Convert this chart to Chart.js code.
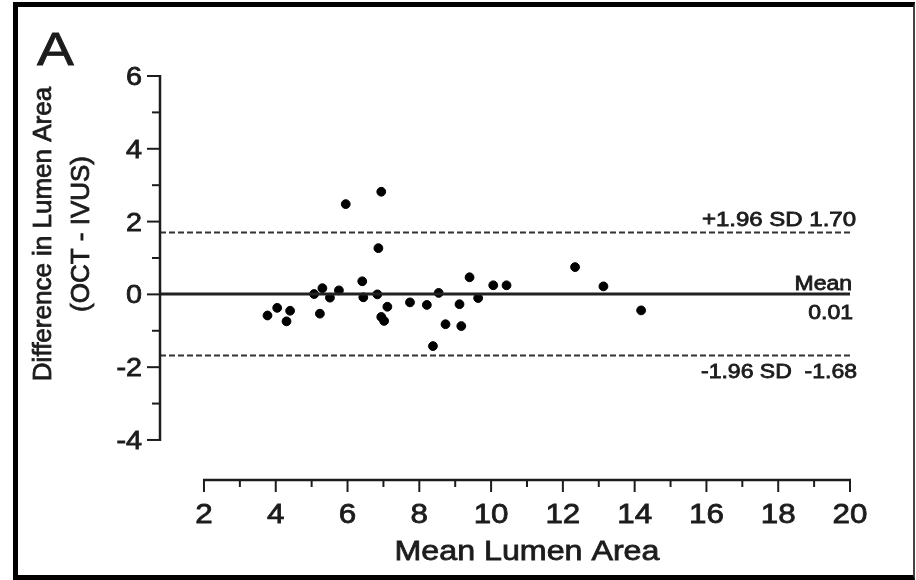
<!DOCTYPE html>
<html lang="en">
<head>
<meta charset="UTF-8">
<title>Bland-Altman OCT vs IVUS</title>
<script src="https://cdn.jsdelivr.net/npm/chart.js"></script>
<style>
    body { margin: 0; background: #fff; }
    .wrap { position: relative; width: 916px; height: 580px; }
    .frame {
        position: absolute; left: 13px; top: 2px; width: 902px; height: 578px;
        box-sizing: border-box;
        border-left: 5px solid #000; border-top: 5px solid #000;
        border-bottom: 5px solid #000; border-right: 2px solid #444;
        pointer-events: none;
    }
</style>
</head>
<body>
<div class="wrap">
    <canvas id="grafico"></canvas>
    <div class="frame"></div>
</div>
<script>
// values
const meanArea = [3.77, 4.04, 4.30, 4.40, 5.07, 5.30, 5.23, 5.51, 5.76, 5.95, 6.41, 6.44, 6.83, 6.86,
    6.94, 6.94, 7.02, 7.11, 7.74, 8.21, 8.38, 8.54, 8.73, 9.12, 9.17, 9.40, 9.64, 10.06, 10.43,
    12.34, 13.13, 14.18];
const diffArea = [-0.58, -0.37, -0.74, -0.45, 0.01, 0.17, -0.53, -0.09, 0.11, 2.48, 0.36, -0.08, 0.00, 1.27,
    2.82, -0.62, -0.73, -0.34, -0.22, -0.29, -1.42, 0.04, -0.82, -0.27, -0.87, 0.47, -0.10, 0.25, 0.25,
    0.75, 0.22, -0.44];

const meanDiff = 0.01;
const upperLoA = 1.70;
const lowerLoA = -1.68;

const xTicks = [2, 3, 4, 5, 6, 7, 8, 9, 10, 11, 12, 13, 14, 15, 16, 17, 18, 19, 20];
const yTicks = [-4, -3, -2, -1, 0, 1, 2, 3, 4, 5, 6];

// x axis is detached, plot area starts at the y axis
const X_MIN = 0.775, X_MAX = 20;
const Y_MIN = -5.1, Y_MAX = 6;

const FONT = '"Liberation Sans", Arial, sans-serif';
const INK = '#1c1c1c';

function hline(value, dash, width, color) {
    return {
        type: 'line',
        data: [{ x: X_MIN, y: value }, { x: X_MAX, y: value }],
        borderColor: color,
        borderWidth: width,
        borderDash: dash,
        pointRadius: 0,
        fill: false
    };
}

function txt(ctx, s, x, y, size, align, sx) {
    ctx.save();
    ctx.translate(x, y);
    ctx.scale(sx, 1);
    ctx.font = size + 'px ' + FONT;
    ctx.textAlign = align;
    ctx.textBaseline = 'alphabetic';
    ctx.fillStyle = INK;
    ctx.strokeStyle = INK;
    ctx.lineWidth = 0.8;
    ctx.fillText(s, 0, 0);
    ctx.strokeText(s, 0, 0);
    ctx.restore();
}

const prismAxes = {
    id: 'prismAxes',
    afterDraw(chart) {
        const ctx = chart.ctx;
        const xs = chart.scales.x, ys = chart.scales.y;
        const left = chart.chartArea.left, bottom = chart.chartArea.bottom;

        ctx.save();
        ctx.strokeStyle = INK;
        ctx.lineWidth = 2.5;
        ctx.lineCap = 'butt';

        // y axis
        ctx.beginPath();
        ctx.moveTo(left, ys.getPixelForValue(yTicks[0]) + 1);
        ctx.lineTo(left, ys.getPixelForValue(yTicks[yTicks.length - 1]) - 1);
        ctx.stroke();
        ctx.lineWidth = 2;
        yTicks.forEach(v => {
            const py = ys.getPixelForValue(v);
            const major = v % 2 === 0;
            ctx.beginPath();
            ctx.moveTo(left, py);
            ctx.lineTo(left - (major ? 13 : 8), py);
            ctx.stroke();
            if (major) txt(ctx, String(v), 142, py + 9, 25, 'right', 1.15);
        });

        // x axis
        ctx.lineWidth = 2.5;
        ctx.beginPath();
        ctx.moveTo(xs.getPixelForValue(xTicks[0]) - 1, bottom);
        ctx.lineTo(xs.getPixelForValue(xTicks[xTicks.length - 1]) + 1, bottom);
        ctx.stroke();
        ctx.lineWidth = 2;
        xTicks.forEach(v => {
            const px = xs.getPixelForValue(v);
            const major = v % 2 === 0;
            ctx.beginPath();
            ctx.moveTo(px, bottom);
            ctx.lineTo(px, bottom + (major ? 12 : 7));
            ctx.stroke();
            if (major) txt(ctx, String(v), px, bottom + 43, 28, 'center', 1.12);
        });
        ctx.restore();

        // axis titles
        const xMid = (xs.getPixelForValue(2) + xs.getPixelForValue(20)) / 2;
        txt(ctx, 'Mean Lumen Area', xMid, 560, 28, 'center', 1.15);

        ctx.save();
        ctx.translate(0, 234);
        ctx.rotate(-Math.PI / 2);
        ctx.font = '26px ' + FONT;
        ctx.fillStyle = INK;
        ctx.strokeStyle = INK;
        ctx.lineWidth = 0.8;
        ctx.textAlign = 'center';
        ctx.fillText('Difference in Lumen Area', 0, 51);
        ctx.strokeText('Difference in Lumen Area', 0, 51);
        ctx.fillText('(OCT - IVUS)', 0, 89);
        ctx.strokeText('(OCT - IVUS)', 0, 89);
        ctx.restore();

        // panel letter
        txt(ctx, 'A', 37, 65, 46, 'left', 1.2);

        // line labels
        const right = xs.getPixelForValue(X_MAX) + 5;
        const yu = ys.getPixelForValue(upperLoA);
        const ym = ys.getPixelForValue(meanDiff);
        const yl = ys.getPixelForValue(lowerLoA);
        txt(ctx, '+1.96 SD 1.70', right + 1, yu - 7, 20, 'right', 1.2);
        txt(ctx, 'Mean', right - 3, ym - 4, 20, 'right', 1.15);
        txt(ctx, '0.01', right - 2, ym + 25, 20, 'right', 1.15);
        txt(ctx, '-1.96 SD  -1.68', right + 2, yl + 22, 20, 'right', 1.15);
    }
};

new Chart(document.getElementById('grafico'), {
    type: 'scatter',
    data: {
        datasets: [
            hline(upperLoA, [6, 3], 2.2, '#333'),
            hline(lowerLoA, [6, 3], 2.2, '#333'),
            hline(meanDiff, [], 3, '#222'),
            {
                label: 'Difference',
                data: meanArea.map((m, i) => ({ x: m, y: diffArea[i] })),
                backgroundColor: '#000',
                borderColor: '#000',
                pointRadius: 4.4,
                pointHoverRadius: 4.4,
                showLine: false
            }
        ]
    },
    options: {
        responsive: true,
        maintainAspectRatio: false,
        animation: false,
        layout: { padding: { left: 160, right: 66, top: 76, bottom: 100 } },
        plugins: { legend: { display: false }, tooltip: { enabled: false } },
        scales: {
            x: { type: 'linear', min: X_MIN, max: X_MAX, display: false },
            y: { type: 'linear', min: Y_MIN, max: Y_MAX, display: false }
        }
    },
    plugins: [prismAxes]
});
</script>
</body>
</html>
